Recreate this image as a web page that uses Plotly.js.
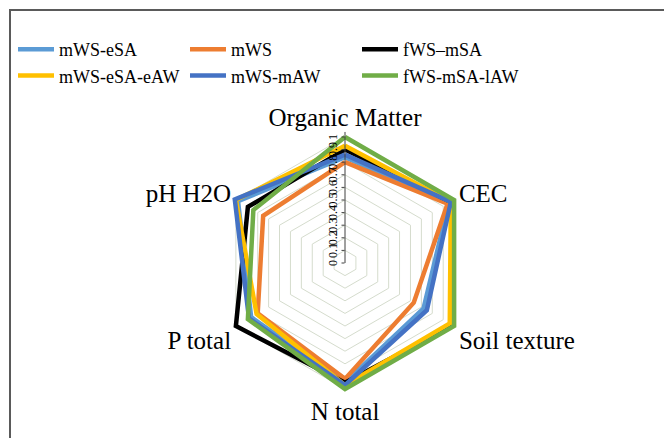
<!DOCTYPE html>
<html>
<head>
<meta charset="utf-8">
<script src="https://cdn.plot.ly/plotly-3.0.1.min.js"></script>
<style>
  html, body { margin: 0; padding: 0; background: #ffffff; }
  #wrap { position: relative; width: 664px; height: 438px; overflow: hidden; }
  #chart { position: absolute; left: 0; top: 0; width: 664px; height: 438px; }
  #frame { position: absolute; left: 9px; top: 9px; width: 700px; height: 480px;
           border-left: 2px solid #5a5a5a; border-top: 2px solid #5a5a5a; pointer-events: none; }
</style>
</head>
<body>
<div id="wrap">
  <div id="chart"></div>
  <div id="frame"></div>
</div>
<script>
// Categories (clockwise from top)
const categories = ["Organic Matter", "CEC", "Soil texture", "N total", "P total", "pH H2O"];

// Series names
const seriesNames = ["mWS-eSA", "mWS", "fWS\u2013mSA", "mWS-eSA-eAW", "mWS-mAW", "fWS-mSA-lAW"];

// Series values (scale 0-1)
const mWS_eSA      = [0.84, 0.95, 0.72, 0.95, 0.86, 0.98];
const mWS          = [0.80, 0.94, 0.63, 0.92, 0.80, 0.75];
const fWS_mSA      = [0.90, 0.97, 0.99, 0.95, 1.00, 0.89];
const mWS_eSA_eAW  = [0.93, 0.97, 0.96, 0.97, 0.81, 1.00];
const mWS_mAW      = [0.86, 0.97, 0.75, 0.97, 0.88, 1.01];
const fWS_mSA_lAW  = [1.00, 1.00, 1.00, 1.00, 0.89, 0.84];

// Radial tick labels
const radialTicks = [0, 0.1, 0.2, 0.3, 0.4, 0.5, 0.6, 0.7, 0.8, 0.9, 1];

const allSeries = [mWS_eSA, mWS, fWS_mSA, mWS_eSA_eAW, mWS_mAW, fWS_mSA_lAW];
const colors = ["#5B9BD5", "#ED7D31", "#000000", "#FFC000", "#4472C4", "#70AD47"];

const traces = allSeries.map((vals, i) => ({
  type: "scatterpolar",
  mode: "lines",
  name: seriesNames[i],
  r: vals.concat([vals[0]]),
  theta: categories.concat([categories[0]]),
  line: { color: colors[i], width: 4.5 },
  hoverinfo: "skip"
}));

const W = 664, H = 438;
const rMax = 1.04;
const cx = 345, cy = 263, R = 126 * rMax;
const SERIF = "Liberation Serif";

const layout = {
  width: W, height: H,
  margin: { l: 0, r: 0, t: 0, b: 0 },
  paper_bgcolor: "#ffffff",
  plot_bgcolor: "#ffffff",
  font: { family: SERIF, color: "#000000" },
  showlegend: true,
  legend: {
    orientation: "h",
    x: 13 / W, xanchor: "left",
    y: 1 - 31 / H, yanchor: "top",
    entrywidth: 121, entrywidthmode: "pixels",
    itemwidth: 36,
    font: { size: 18, family: SERIF, color: "#000000" },
    bgcolor: "rgba(0,0,0,0)",
    traceorder: "normal"
  },
  polar: {
    domain: { x: [(cx - R) / W, (cx + R) / W], y: [1 - (cy + R) / H, 1 - (cy - R) / H] },
    gridshape: "linear",
    bgcolor: "#ffffff",
    angularaxis: {
      rotation: 90,
      direction: "clockwise",
      showgrid: false,
      showline: false,
      ticks: "",
      tickfont: { size: 25, family: SERIF, color: "#000000" }
    },
    radialaxis: {
      range: [0, rMax],
      angle: 90,
      side: "counterclockwise",
      tickangle: 0,
      tickvals: radialTicks,
      ticktext: radialTicks.map(String),
      showline: true,
      linecolor: "#404040",
      linewidth: 1,
      ticks: "outside",
      ticklen: 3,
      tickcolor: "#404040",
      gridcolor: "#d5dccd",
      gridwidth: 1,
      tickfont: { size: 12, family: SERIF, color: "#000000" }
    }
  }
};

Plotly.newPlot("chart", traces, layout, { displayModeBar: false, staticPlot: true });
</script>
</body>
</html>
